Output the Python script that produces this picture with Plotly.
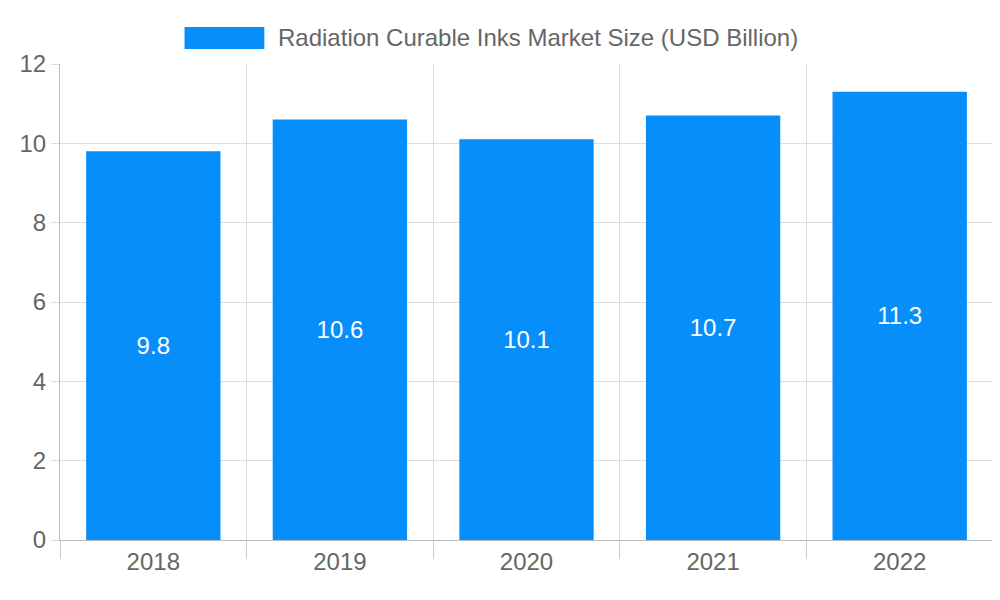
import plotly.graph_objects as go

years = ["2018", "2019", "2020", "2021", "2022"]
values = [9.8, 10.6, 10.1, 10.7, 11.3]
series_name = "Radiation Curable Inks Market Size (USD Billion)"

color = "#068EFA"
font = "Liberation Sans, Arial, sans-serif"
idx = list(range(len(years)))
bounds = [i - 0.5 for i in range(len(years) + 1)]

fig = go.Figure(go.Bar(
    x=idx, y=values, width=0.72, marker_color=color, marker_line_width=0,
    text=[str(v) for v in values], textposition="inside", insidetextanchor="middle",
    textfont=dict(color="white", size=24, family=font), name=series_name,
    showlegend=False,
))

fig.update_layout(
    width=1000, height=600, plot_bgcolor="white", paper_bgcolor="white",
    margin=dict(l=52, r=15, t=56, b=68),
    font=dict(family=font, color="#666", size=24),
    xaxis=dict(range=[-0.5, len(years) - 0.5], tickmode="array", tickvals=idx, ticktext=years,
               ticks="", showgrid=False, zeroline=False, showline=True, linecolor="#bbb",
               tickfont=dict(size=24),
               minor=dict(tickmode="array", tickvals=bounds, ticks="outside", ticklen=18,
                          tickcolor="#ccc", showgrid=True, gridcolor="#ddd")),
    yaxis=dict(range=[0, 12], dtick=2, ticks="outside", ticklen=8, tickcolor="#ddd",
               gridcolor="#ddd", zeroline=False, showline=True, linecolor="#bbb",
               tickfont=dict(size=24), automargin=False),
    uniformtext=dict(minsize=10),
)
fig.add_shape(type="rect", xref="paper", yref="paper", x0=0.1335, x1=0.219,
              y0=1.0 + 15/476, y1=1.0 + 37/476, fillcolor=color, line_width=0)
fig.add_annotation(xref="paper", yref="paper", x=0.232, y=1.0 + 26/476, xanchor="left",
                   yanchor="middle", text=series_name, showarrow=False,
                   font=dict(size=24, color="#666", family=font))
fig.write_html("out.html")
